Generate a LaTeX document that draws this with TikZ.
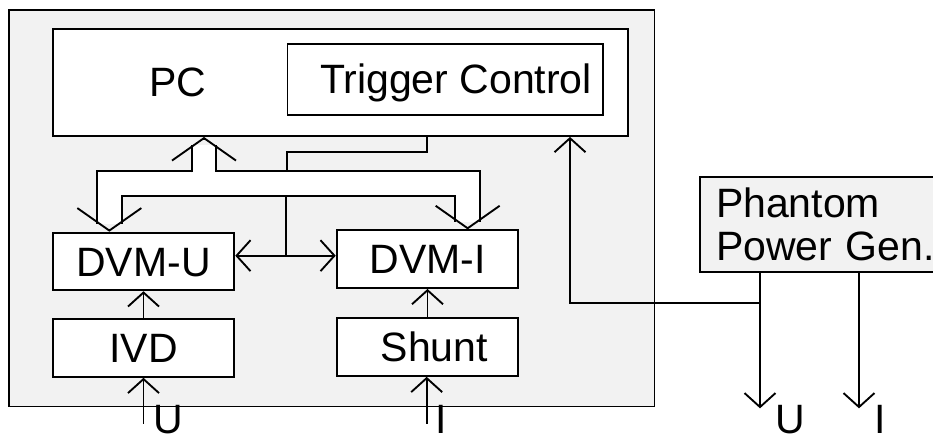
\documentclass[tikz,border=0pt]{standalone}
\usepackage{fontspec}
\setmainfont{Liberation Sans}
\usetikzlibrary{positioning,arrows.meta,calc}
\definecolor{panel}{HTML}{F2F2F2}
\tikzset{
  blk/.style    ={draw, rectangle, fill=white, inner sep=0pt, minimum width=5.45cm, minimum height=1.73cm, text height=25pt, text depth=0pt},
  gen/.style    ={draw, rectangle, fill=panel, align=left, text width=6.72cm, inner xsep=0.48cm, inner ysep=0pt, minimum height=2.85cm},
  lbl/.style    ={inner sep=0pt, text height=25pt, text depth=0pt},
  arr/.style    ={-{Straight Barb[length=0.42cm, width=0.93cm]}},
  bigarr/.style ={-{Straight Barb[length=0.675cm, width=1.92cm]}},
  bus/.style    ={double=white, double distance=0.68cm},
}
\begin{document}
\begin{tikzpicture}[line width=1.6pt, font=\fontsize{35}{37}\selectfont]
  \path[use as bounding box] (0,0) rectangle (27.99,13.23);
  \clip (0,0) rectangle (27.99,13.23);
  \draw[fill=panel] (0.27,1.035) rectangle (19.635,12.93);

  \node[blk, minimum width=17.27cm, minimum height=3.2cm] (pc) at (10.215,10.75) {};
  \node[lbl] (pclbl) at (5.325,10.78) {PC};
  \node[blk, minimum width=9.47cm, minimum height=2.14cm] (trig) at (13.36,10.85) {\hspace{0.52em}Trigger Control};
  \node[blk] (dvmu) at (4.305,5.385) {DVM-U};
  \node[blk] (dvmi) at (12.825,5.454) {DVM-I\hspace{0.33em}};
  \node[blk, below=0.81cm of dvmu] (ivd) {IVD};
  \node[blk, below=0.85cm of dvmi] (shunt) {\hspace{0.33em}Shunt};
  \node[gen] (ppg) at (24.84,6.5) {Phantom\\Power Gen.};

  % bus between PC and the two meters
  \coordinate (bj) at (6.12,7.73);
  \draw[bus] (3.28,6.52) |- (14.03,7.73) -- (14.03,6.567);
  \draw[bus] (6.12,8.06) -- (6.12,8.89);
  \draw[bigarr] (6.12,9.05) -- (pc.south -| bj);
  \draw[bigarr] (3.28,6.36) -- (dvmu.north -| 3.28,0);
  \draw[bigarr] (14.03,6.41) -- (dvmi.north -| 14.03,0);

  % trigger line and meter link
  \coordinate (jn) at (8.58,5.559);
  \draw (pc.south -| 12.8,0) |- (8.62,8.67) -- (8.62,8.097);
  \draw (jn) -- ++(0,1.803);
  \draw[arr] (jn) -- (dvmu.east |- jn);
  \draw[arr] (jn) -- (dvmi.west |- jn);

  \draw[arr] (ivd.north) -- (dvmu.south);
  \draw[arr] (shunt.north) -- (dvmi.south);

  % inputs
  \coordinate (uin) at (4.305,0.51);
  \coordinate (iin) at (12.8,0.51);
  \draw[arr] (uin) -- (ivd.south -| uin);
  \draw[arr] (iin) -- (shunt.south -| iin);
  \node[lbl] (ulbl) at (5.04,0.65) {U};
  \node[lbl] (ilbl) at (13.25,0.65) {I};

  % phantom outputs and feedback
  \coordinate (uout) at (22.8,0.98);
  \coordinate (iout) at (25.77,0.98);
  \coordinate (fbk) at (22.8,4.131);
  \draw[arr] (ppg.south -| uout) -- (uout);
  \draw[arr] (ppg.south -| iout) -- (iout);
  \draw[arr] (fbk) -| (pc.south -| 17.1,0);
  \node[lbl] (uolbl) at (23.7,0.65) {U};
  \node[lbl] (iolbl) at (26.4,0.65) {I};
\end{tikzpicture}
\end{document}
